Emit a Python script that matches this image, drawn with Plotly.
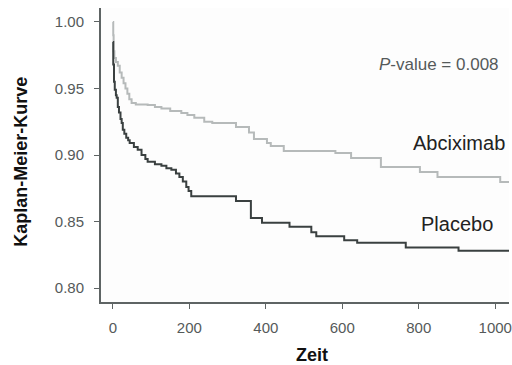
import plotly.graph_objects as go

# Abciximab (light grey) survival curve
abc_t = [0, 1, 2, 4, 8, 13, 18, 23, 28, 33, 38, 43, 49, 60, 91, 110, 127, 150, 179, 195, 213, 239, 260, 322, 356, 369,
         403, 413, 447, 582, 623, 701, 803, 849, 1013, 1040]
abc_v = [1.000, 0.990, 0.978, 0.973, 0.970, 0.967, 0.962, 0.958, 0.954, 0.950, 0.946, 0.942, 0.939, 0.938, 0.9376,
         0.936, 0.935, 0.933, 0.9316, 0.930, 0.928, 0.925, 0.924, 0.921, 0.917, 0.912,
         0.909, 0.9068, 0.903, 0.9015, 0.8977, 0.891, 0.8872, 0.8835, 0.8797, 0.8797]

# Placebo (dark) survival curve
pla_t = [0, 1, 3, 5, 8, 10, 13, 16, 20, 23, 26, 30, 35, 40, 44, 55, 65, 75, 85, 91, 110, 127, 140, 153, 165, 174,
         183, 192, 198, 205, 322, 361, 390, 462, 519, 532, 605, 639, 766, 904, 1040]
pla_v = [0.985, 0.968, 0.955, 0.949, 0.945, 0.943, 0.936, 0.932, 0.927, 0.924, 0.919, 0.916, 0.913, 0.911, 0.909,
         0.906, 0.904, 0.900, 0.897, 0.895, 0.893, 0.892, 0.890, 0.889, 0.886, 0.8835,
         0.880, 0.876, 0.873, 0.869, 0.8654, 0.8526, 0.849, 0.846, 0.842, 0.839, 0.836, 0.834, 0.8305, 0.828, 0.828]

x_ticks = [0, 200, 400, 600, 800, 1000]
y_ticks = [0.80, 0.85, 0.90, 0.95, 1.00]

FONT = "Liberation Sans, Arial"

fig = go.Figure()
fig.add_trace(go.Scatter(x=abc_t, y=abc_v, mode="lines", line=dict(color="#b6baba", width=2, shape="hv"), name="Abciximab"))
fig.add_trace(go.Scatter(x=pla_t, y=pla_v, mode="lines", line=dict(color="#3a4040", width=2, shape="hv"), name="Placebo"))

axis_common = dict(showgrid=False, zeroline=False, showline=True, linecolor="#5e6464", linewidth=2,
                   ticks="outside", ticklen=5, tickwidth=1, tickcolor="#5e6464",
                   ticklabeloverflow="allow",
                   tickfont=dict(family=FONT, size=15, color="#555a5a"))

fig.update_layout(
    width=512, height=365,
    margin=dict(l=101, r=0, t=8, b=63),
    paper_bgcolor="white", plot_bgcolor="#fdfdfd",
    showlegend=False,
    font=dict(family=FONT),
    xaxis=dict(range=[-31, 1036], tickvals=x_ticks, ticktext=[str(v) for v in x_ticks], ticklabelstandoff=6, **axis_common),
    yaxis=dict(range=[0.7895, 1.0105], tickvals=y_ticks, ticktext=[f"{v:.2f}" for v in y_ticks], ticklabelstandoff=7, **axis_common),
    annotations=[
        dict(x=852, y=0.968, xref="x", yref="y", text="<i>P</i>-value = 0.008", showarrow=False,
             font=dict(family=FONT, size=17, color="#555a5a")),
        dict(x=904, y=0.909, xref="x", yref="y", text="Abciximab", showarrow=False,
             font=dict(family=FONT, size=20, color="#222222")),
        dict(x=899, y=0.8485, xref="x", yref="y", text="Placebo", showarrow=False,
             font=dict(family=FONT, size=20, color="#222222")),
        dict(x=0.516, y=-0.180, xref="paper", yref="paper", text="<b>Zeit</b>", showarrow=False,
             xanchor="center", yanchor="middle",
             font=dict(family=FONT, size=18, color="#111111")),
        dict(x=-0.197, y=0.476, xref="paper", yref="paper", text="<b>Kaplan-Meier-Kurve</b>", showarrow=False,
             xanchor="center", yanchor="middle",
             textangle=-90, font=dict(family=FONT, size=18, color="#111111")),
    ],
)

fig.write_html("out.html", config={"displayModeBar": False},
               post_script="document.body.style.margin='0';")
